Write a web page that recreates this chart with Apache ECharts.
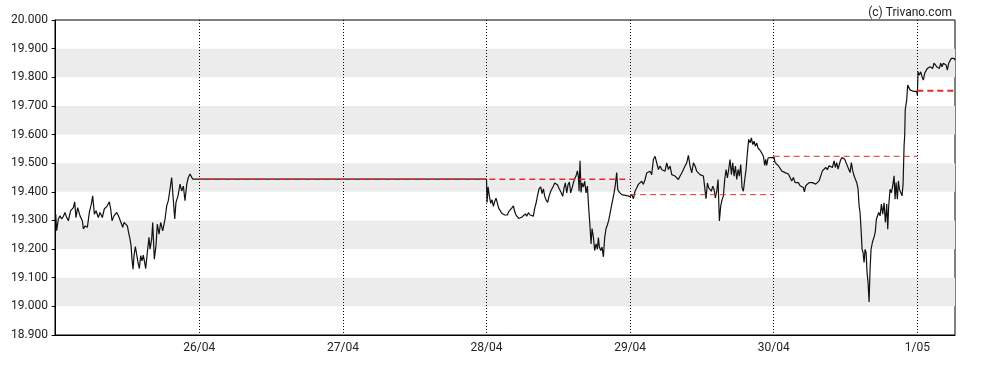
<!DOCTYPE html>
<html>
<head>
<meta charset="utf-8">
<script src="https://cdn.jsdelivr.net/npm/echarts@6/dist/echarts.min.js"></script>
<style>html,body{margin:0;padding:0;background:#fff}#c{width:988px;height:370px}</style>
</head>
<body>
<div id="c"></div>
<script>
// x values: hours since 25/04 00:00
const dayTicks = [24, 48, 72, 96, 120, 144];
const dayLabels = ['26/04', '27/04', '28/04', '29/04', '30/04', '1/05'];
const yMin = 18.9, yMax = 20.0, yStep = 0.1;
const xMin = -0.12, xMax = 150.3;

const day25 = [[0,19.322],[0.16,19.264],[0.44,19.305],[0.72,19.316],[1.0,19.305],[1.27,19.314],[1.55,19.328],[1.84,19.31],[2.11,19.299],[2.5,19.334],[2.95,19.345],[3.17,19.365],[3.39,19.31],[3.67,19.345],[4.06,19.316],[4.45,19.299],[4.62,19.27],[4.9,19.281],[5.29,19.276],[5.62,19.328],[5.95,19.357],[6.18,19.386],[6.46,19.322],[6.74,19.334],[7.12,19.31],[7.4,19.328],[7.79,19.31],[8.12,19.34],[8.62,19.351],[8.96,19.365],[9.19,19.34],[9.41,19.299],[9.74,19.316],[10.2,19.328],[10.53,19.314],[10.86,19.31],[11.2,19.276],[11.42,19.293],[11.75,19.295],[11.97,19.281],[12.2,19.256],[12.42,19.235],[12.59,19.212],[12.75,19.165],[12.92,19.13],[13.09,19.177],[13.31,19.209],[13.54,19.206],[13.76,19.153],[13.98,19.132],[14.2,19.177],[14.42,19.159],[14.64,19.179],[14.88,19.151],[15.04,19.132],[15.31,19.188],[15.59,19.241],[15.76,19.2],[16.04,19.235],[16.21,19.293],[16.48,19.165],[16.76,19.212],[16.98,19.287],[17.27,19.252],[17.54,19.293],[17.88,19.264],[18.27,19.305],[18.55,19.351],[18.82,19.369],[19.1,19.409],[19.38,19.45],[19.6,19.386],[19.89,19.305],[20.1,19.363],[20.44,19.386],[20.78,19.427],[21.05,19.403],[21.33,19.42],[21.61,19.369],[21.9,19.427],[22.16,19.45],[22.45,19.462],[22.67,19.456],[22.9,19.444],[23.83,19.444]];

const day28 = [[72.0,19.444],[72.09,19.363],[72.26,19.417],[72.48,19.384],[72.7,19.36],[72.93,19.372],[73.15,19.349],[73.37,19.366],[73.59,19.378],[73.82,19.372],[74.04,19.343],[74.26,19.337],[74.54,19.325],[74.82,19.331],[75.04,19.319],[75.27,19.313],[75.49,19.319],[75.71,19.331],[75.93,19.327],[76.21,19.343],[76.49,19.351],[76.71,19.331],[76.94,19.319],[77.16,19.315],[77.38,19.307],[77.6,19.304],[77.88,19.311],[78.16,19.315],[78.5,19.323],[78.72,19.315],[79.0,19.327],[79.28,19.319],[79.56,19.325],[79.83,19.315],[80.06,19.343],[80.28,19.36],[80.5,19.384],[80.78,19.41],[81.06,19.417],[81.28,19.394],[81.51,19.41],[81.73,19.384],[81.95,19.372],[82.23,19.363],[82.45,19.384],[82.73,19.402],[82.95,19.408],[83.18,19.42],[83.4,19.431],[83.62,19.437],[83.85,19.425],[84.07,19.414],[84.29,19.42],[84.51,19.396],[84.74,19.384],[84.96,19.414],[85.18,19.431],[85.41,19.396],[85.63,19.425],[85.85,19.434],[86.07,19.396],[86.3,19.414],[86.52,19.431],[86.74,19.446],[86.96,19.455],[87.19,19.473],[87.35,19.455],[87.47,19.402],[87.63,19.508],[87.8,19.398],[87.97,19.431],[88.19,19.417],[88.41,19.437],[88.64,19.396],[88.86,19.42],[89.08,19.343],[89.3,19.278],[89.47,19.218],[89.64,19.272],[89.86,19.242],[90.08,19.195],[90.31,19.218],[90.53,19.2],[90.7,19.24],[90.86,19.207],[91.09,19.195],[91.31,19.207],[91.53,19.173],[91.76,19.242],[91.98,19.272],[92.2,19.284],[92.42,19.3],[92.65,19.325],[92.87,19.349],[93.09,19.372],[93.32,19.396],[93.54,19.425],[93.76,19.467],[93.93,19.408],[94.21,19.398],[94.6,19.39],[95.43,19.387]];

const day29 = [[95.99,19.383],[96.27,19.391],[96.55,19.376],[96.83,19.402],[97.11,19.414],[97.38,19.426],[97.66,19.42],[97.94,19.437],[98.22,19.426],[98.5,19.443],[98.78,19.466],[99.06,19.46],[99.33,19.472],[99.61,19.46],[99.89,19.513],[100.17,19.524],[100.45,19.527],[100.73,19.478],[101.01,19.49],[101.28,19.478],[101.56,19.484],[101.84,19.472],[102.12,19.501],[102.4,19.478],[102.68,19.49],[102.96,19.46],[103.23,19.466],[103.51,19.455],[103.79,19.46],[104.07,19.443],[104.35,19.455],[104.63,19.466],[104.91,19.46],[105.18,19.49],[105.46,19.501],[105.74,19.527],[106.02,19.49],[106.3,19.466],[106.58,19.501],[106.86,19.49],[107.13,19.472],[107.41,19.478],[107.69,19.46],[107.97,19.466],[108.25,19.455],[108.53,19.449],[108.69,19.376],[108.92,19.431],[109.14,19.414],[109.36,19.42],[109.58,19.402],[109.81,19.42],[110.03,19.408],[110.25,19.379],[110.48,19.402],[110.7,19.443],[110.92,19.298],[111.14,19.35],[111.37,19.373],[111.59,19.385],[111.81,19.443],[112.04,19.478],[112.26,19.449],[112.48,19.478],[112.7,19.513],[112.93,19.46],[113.15,19.501],[113.37,19.455],[113.6,19.49],[113.82,19.443],[114.04,19.478],[114.26,19.455],[114.49,19.495],[114.71,19.414],[114.93,19.402],[115.16,19.443],[115.38,19.478],[115.6,19.536],[115.82,19.583],[116.05,19.571],[116.27,19.588],[116.49,19.565],[116.72,19.577],[116.94,19.559],[117.16,19.571],[117.38,19.553],[117.61,19.559],[117.83,19.542],[118.05,19.548],[118.28,19.524],[118.5,19.492],[118.67,19.513],[118.83,19.492],[119.06,19.519],[119.28,19.524]];

const day30 = [[120.06,19.52],[120.23,19.502],[120.51,19.508],[120.78,19.491],[121.06,19.497],[121.34,19.473],[121.62,19.479],[121.9,19.467],[122.18,19.473],[122.46,19.462],[122.73,19.467],[123.01,19.438],[123.29,19.45],[123.57,19.432],[123.85,19.427],[124.13,19.432],[124.41,19.421],[124.68,19.427],[124.96,19.415],[125.13,19.4],[125.35,19.421],[125.63,19.427],[125.91,19.432],[126.19,19.438],[126.47,19.432],[126.75,19.438],[127.02,19.427],[127.3,19.421],[127.58,19.438],[127.86,19.444],[128.14,19.473],[128.42,19.467],[128.69,19.485],[128.97,19.477],[129.25,19.491],[129.53,19.497],[129.81,19.485],[130.09,19.508],[130.31,19.485],[130.53,19.502],[130.76,19.479],[130.98,19.497],[131.2,19.512],[131.42,19.52],[131.65,19.526],[131.87,19.514],[132.09,19.502],[132.32,19.497],[132.54,19.479],[132.76,19.467],[132.98,19.502],[133.21,19.473],[133.43,19.456],[133.65,19.444],[133.88,19.432],[134.1,19.409],[134.27,19.351],[134.43,19.328],[134.6,19.269],[134.77,19.199],[134.93,19.188],[135.1,19.153],[135.27,19.199],[135.44,19.188],[135.6,19.118],[135.77,19.083],[135.94,19.015],[136.1,19.129],[136.27,19.199],[136.49,19.223],[136.66,19.223],[136.83,19.246],[136.99,19.263],[137.16,19.304],[137.39,19.31],[137.55,19.328],[137.78,19.316],[138.0,19.357],[138.22,19.322],[138.44,19.362],[138.67,19.293],[138.89,19.357],[139.06,19.269],[139.22,19.351],[139.45,19.409],[139.67,19.397],[139.89,19.421],[140.12,19.456],[140.28,19.374],[140.45,19.432],[140.67,19.374],[140.84,19.438],[141.01,19.409],[141.23,19.415],[141.45,19.386],[141.62,19.427],[141.79,19.561],[141.9,19.6],[141.98,19.686],[142.23,19.721],[142.39,19.773],[142.78,19.756],[143.34,19.751],[143.9,19.751]];

const day01 = [[144.01,19.738],[144.12,19.819],[144.34,19.808],[144.57,19.819],[144.79,19.802],[145.01,19.79],[145.23,19.814],[145.46,19.819],[145.68,19.831],[145.9,19.825],[146.13,19.837],[146.35,19.843],[146.57,19.831],[146.79,19.849],[147.02,19.854],[147.24,19.837],[147.46,19.843],[147.69,19.831],[147.91,19.849],[148.13,19.837],[148.35,19.849],[148.58,19.854],[148.8,19.843],[149.02,19.825],[149.25,19.849],[149.47,19.854],[149.69,19.866],[149.91,19.872],[150.14,19.866],[150.3,19.86]];

// previous-close reference levels and the spans they cover (hours)
const refStart = [24, 96, 120, 144];
const refEnd = [96, 120, 144, 150.3];
const refValue = [19.444, 19.390, 19.524, 19.753];

// styling (kept separate from data)
const refWidths = [1.5, 1, 1, 2];
const refColor = '#e62a2a';

const priceData = day25.concat(day28, day29, day30, day01);

const refSeries = refValue.map((v, i) => ({
  type: 'line',
  data: [[refStart[i], v], [refEnd[i], v]],
  showSymbol: false,
  symbol: 'none',
  silent: true,
  z: 5,
  lineStyle: { color: refColor, width: refWidths[i], type: [6, 4] }
}));

const chart = echarts.init(document.getElementById('c'), null, { renderer: 'canvas' });
chart.setOption({
  animation: false,
  backgroundColor: '#fff',
  textStyle: { fontFamily: 'Roboto' },
  title: {
    text: '(c) Trivano.com',
    right: 31, top: 2,
    textStyle: { fontFamily: 'Roboto', fontSize: 12, fontWeight: 'normal', color: '#222' }
  },
  grid: {
    left: 55, right: 33, top: 20, bottom: 35,
    show: true, borderColor: '#000', borderWidth: 1, backgroundColor: 'transparent'
  },
  xAxis: {
    type: 'value',
    min: xMin, max: xMax,
    axisLine: { show: true, lineStyle: { color: '#000', width: 1 } },
    axisTick: { show: false, customValues: dayTicks },
    axisLabel: {
      customValues: dayTicks,
      formatter: v => dayLabels[dayTicks.indexOf(Math.round(v))] || '',
      color: '#222', fontSize: 12, fontFamily: 'Roboto', margin: 7
    },
    splitLine: { show: true, lineStyle: { color: '#000', width: 1, type: [1, 2] } }
  },
  yAxis: {
    type: 'value',
    min: yMin, max: yMax, interval: yStep,
    axisLine: { show: true, lineStyle: { color: '#000', width: 1 } },
    axisTick: { show: true, length: 4, lineStyle: { color: '#000' } },
    axisLabel: {
      formatter: v => v.toFixed(3),
      color: '#222', fontSize: 12, fontFamily: 'Roboto', margin: 7
    },
    splitLine: { show: false },
    splitArea: { show: true, areaStyle: { color: ['rgba(255,255,255,0)', '#ececec'] } }
  },
  series: [{
    type: 'line',
    data: priceData,
    showSymbol: false,
    symbol: 'none',
    lineStyle: { color: '#111', width: 1.2 },
    silent: true,
    z: 3
  }].concat(refSeries)
});
</script>
</body>
</html>
